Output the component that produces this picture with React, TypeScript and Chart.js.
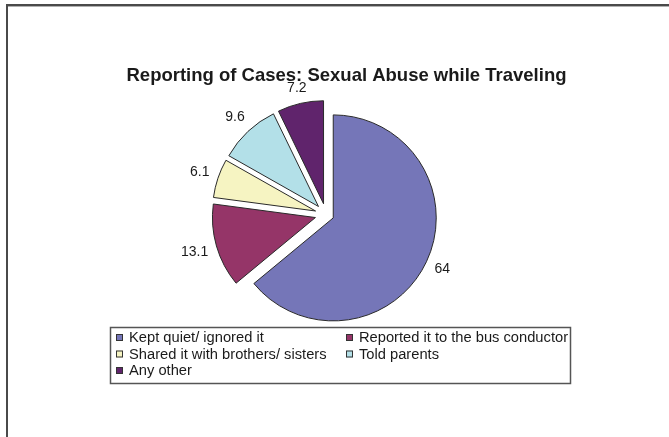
import React, { useEffect, useRef } from "react";
import { Chart, registerables } from "chart.js";

Chart.register(...registerables);

const TITLE = "Reporting of Cases: Sexual Abuse while Traveling";
const categories = [
  "Kept quiet/ ignored it",
  "Reported it to the bus conductor",
  "Shared it with brothers/ sisters",
  "Told parents",
  "Any other",
];
const values = [64, 13.1, 6.1, 9.6, 7.2];
const valueLabels = ["64", "13.1", "6.1", "9.6", "7.2"];
const colors = ["#7576b8", "#953568", "#f6f4c2", "#b3e0e8", "#60246c"];
// explode distance in px per slice (style)
const explode = [8, 11, 11, 11, 11];

const FONT = "Arial, 'Liberation Sans', Helvetica, sans-serif";

const explodePlugin = {
  id: "explode",
  beforeDatasetDraw(chart: any, args: any) {
    const meta = args.meta;
    const ctx = chart.ctx;
    meta.data.forEach((arc: any, i: number) => {
      const mid = (arc.startAngle + arc.endAngle) / 2;
      ctx.save();
      ctx.translate(Math.cos(mid) * explode[i], Math.sin(mid) * explode[i]);
      arc.draw(ctx, chart.chartArea);
      ctx.restore();
    });
    return false;
  },
};

const decorPlugin = {
  id: "decor",
  beforeDraw(chart: any) {
    const ctx = chart.ctx;
    ctx.save();
    ctx.fillStyle = "#ffffff";
    ctx.fillRect(0, 0, chart.width, chart.height);
    // frame
    ctx.fillStyle = "#4a4a4a";
    ctx.fillRect(6, 4, chart.width - 6, 2);
    ctx.fillRect(6, 4, 2, chart.height - 4);
    ctx.fillStyle = "#b0b0b0";
    ctx.fillRect(8, 6, chart.width - 8, 1);
    ctx.restore();
  },
  afterDraw(chart: any) {
    const ctx = chart.ctx;
    ctx.save();
    // title
    ctx.fillStyle = "#1a1a1a";
    ctx.font = `bold 18.5px ${FONT}`;
    ctx.textAlign = "center";
    ctx.textBaseline = "alphabetic";
    ctx.fillText(TITLE, 346.5, 81);

    // value labels
    const meta = chart.getDatasetMeta(0);
    ctx.font = `14px ${FONT}`;
    ctx.fillStyle = "#1a1a1a";
    ctx.textAlign = "center";
    ctx.textBaseline = "middle";
    meta.data.forEach((arc: any, i: number) => {
      const mid = (arc.startAngle + arc.endAngle) / 2;
      const dx = Math.cos(mid);
      const dy = Math.sin(mid);
      const text = valueLabels[i];
      const w = ctx.measureText(text).width;
      const h = 12;
      const ext = (Math.abs(dx) * w) / 2 + (Math.abs(dy) * h) / 2;
      const d = explode[i] + arc.outerRadius + 8 + ext;
      ctx.fillText(text, arc.x + dx * d, arc.y + dy * d);
    });

    // legend box
    const bx = 110.5, by = 327.5, bw = 460, bh = 56;
    ctx.strokeStyle = "#555555";
    ctx.lineWidth = 1.5;
    ctx.strokeRect(bx, by, bw, bh);
    const colX = [116, 346];
    const rowY = [337.5, 354, 370.5];
    ctx.font = `14.7px ${FONT}`;
    ctx.textAlign = "left";
    ctx.textBaseline = "middle";
    categories.forEach((c, i) => {
      const x = colX[i % 2];
      const y = rowY[Math.floor(i / 2)];
      ctx.fillStyle = colors[i];
      ctx.fillRect(x, y - 3.5, 7, 7);
      ctx.strokeStyle = "#333333";
      ctx.lineWidth = 1;
      ctx.strokeRect(x + 0.5, y - 3, 6, 6);
      ctx.fillStyle = "#1a1a1a";
      ctx.fillText(c, x + 13, y + 0.5);
    });
    ctx.restore();
  },
};

export default function App() {
  const ref = useRef<HTMLCanvasElement | null>(null);
  useEffect(() => {
    if (!ref.current) return;
    const chart = new Chart(ref.current, {
      type: "pie",
      data: {
        labels: categories,
        datasets: [
          {
            data: values,
            backgroundColor: colors,
            borderColor: "#2a2a2a",
            borderWidth: 1,
          },
        ],
      },
      options: {
        animation: false,
        responsive: false,
        maintainAspectRatio: false,
        radius: 103,
        layout: { padding: { left: 0, right: 17, top: 0, bottom: 8 } },
        plugins: {
          legend: { display: false },
          title: { display: false },
          tooltip: { enabled: false },
        },
      } as any,
      plugins: [decorPlugin, explodePlugin],
    });
    return () => chart.destroy();
  }, []);
  return (
    <div style={{ position: "absolute", left: 0, top: 0, width: 669, height: 437 }}>
      <canvas ref={ref} width={669} height={437} style={{ display: "block" }} />
    </div>
  );
}
